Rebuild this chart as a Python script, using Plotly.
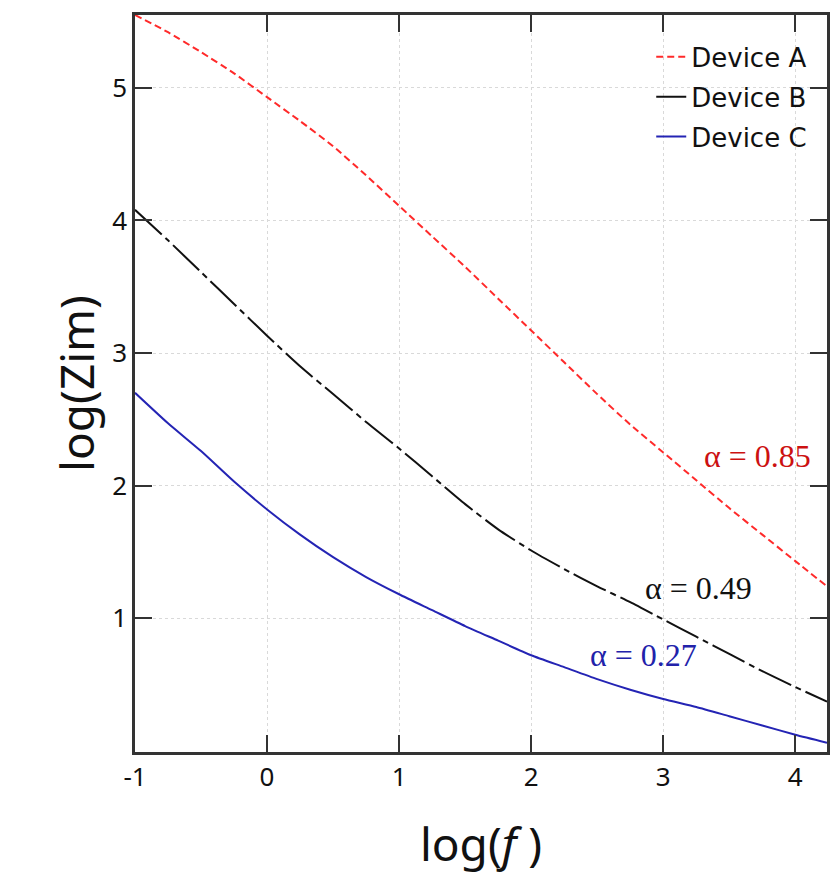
import plotly.graph_objects as go

# ---- data ----
log_f = [-1, -0.75, -0.5, -0.25, 0, 0.25, 0.5, 0.75, 1, 1.25, 1.5, 1.75,
         2, 2.25, 2.5, 2.75, 3, 3.25, 3.5, 3.75, 4, 4.24]

device_a = [5.55, 5.42, 5.27, 5.11, 4.93, 4.75, 4.56, 4.34, 4.11, 3.88, 3.65, 3.41,
            3.17, 2.93, 2.69, 2.46, 2.25, 2.04, 1.83, 1.63, 1.43, 1.24]
device_b = [4.08, 3.85, 3.61, 3.37, 3.13, 2.90, 2.69, 2.48, 2.28, 2.07, 1.86, 1.67,
            1.51, 1.37, 1.24, 1.12, 0.99, 0.86, 0.73, 0.60, 0.48, 0.37]
device_c = [2.70, 2.47, 2.26, 2.03, 1.82, 1.63, 1.46, 1.31, 1.18, 1.06, 0.94, 0.83,
            0.72, 0.63, 0.54, 0.46, 0.39, 0.33, 0.26, 0.19, 0.12, 0.06]

series_names = ["Device A", "Device B", "Device C"]
alpha_labels = ["α = 0.85", "α = 0.49", "α = 0.27"]
alpha_pos_x = [3.71, 3.27, 2.85]
alpha_pos_y = [2.22, 1.23, 0.72]

x_ticks = [-1, 0, 1, 2, 3, 4]
y_ticks = [1, 2, 3, 4, 5]

SANS = "Noto Sans"
SERIF = "Liberation Serif"

fig = go.Figure()
styles = [
    dict(color="#ff2a2a", width=2, dash="7px,4px"),
    dict(color="#111111", width=2, dash="36px,5px,6px,5px"),
    dict(color="#2424b4", width=2, dash="solid"),
]
for name, ys, st in zip(series_names, [device_a, device_b, device_c], styles):
    fig.add_trace(go.Scatter(x=log_f, y=ys, mode="lines", name=name,
                             line=dict(shape="spline", smoothing=0.6, **st),
                             legendgroup=name))

ann_colors = ["#cc1111", "#111111", "#2222aa"]
for txt, ax, ay, c in zip(alpha_labels, alpha_pos_x, alpha_pos_y, ann_colors):
    fig.add_annotation(x=ax, y=ay, xref="x", yref="y", text=txt, showarrow=False,
                       font=dict(family=SERIF, size=32, color=c))

axis_common = dict(
    showline=True, linecolor="#333333", linewidth=2.5, mirror="ticks",
    ticks="inside", ticklen=17, tickwidth=2, tickcolor="#333333",
    showgrid=True, gridcolor="#d9d9d9", griddash="dot", gridwidth=1,
    zeroline=False, tickfont=dict(family=SANS, size=26, color="#111111"),
)

fig.update_layout(
    width=830, height=880,
    margin=dict(l=135, r=0, t=15, b=128),
    paper_bgcolor="white", plot_bgcolor="white",
    showlegend=True,
    legend=dict(x=0.746, y=0.975, xanchor="left", yanchor="top",
                bgcolor="rgba(0,0,0,0)", borderwidth=0,
                font=dict(family="DejaVu Sans", size=26, color="#111111"),
                tracegroupgap=3, traceorder="grouped"),
    xaxis=dict(range=[-1, 4.24], tickvals=x_ticks, ticktext=[str(v) for v in x_ticks],
               title=dict(text="log(<i>f</i> )", font=dict(family=SANS, size=46, color="#111111"),
                          standoff=36),
               **axis_common),
    yaxis=dict(range=[-0.01, 5.55], tickvals=y_ticks, ticktext=[str(v) for v in y_ticks],
               title=dict(text="log(Zim)", font=dict(family=SANS, size=46, color="#111111"),
                          standoff=4),
               **axis_common),
)

fig.write_html("out.html", config={"displayModeBar": False},
               post_script="document.body.style.margin='0';document.body.style.overflow='hidden';")
